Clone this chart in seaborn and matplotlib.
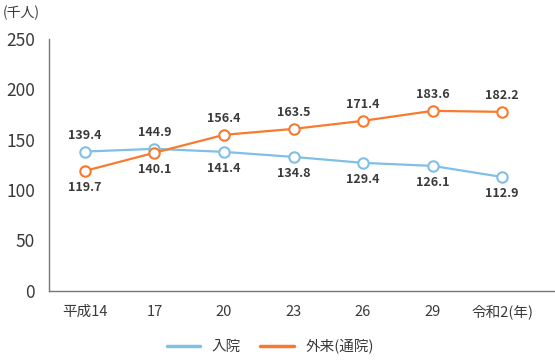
import pandas as pd
import numpy as np
import matplotlib.pyplot as plt
import seaborn as sns
from matplotlib.lines import Line2D

# Data
years = ["平成14", "17", "20", "23", "26", "29", "令和2(年)"]
inpatient = [138.2, 140.9, 137.9, 132.9, 127.0, 124.0, 113.0]
outpatient = [119.0, 137.0, 154.8, 160.7, 168.7, 178.6, 177.6]
# labels as printed in the chart (upper row / lower row)
top_labels = ["139.4", "144.9", "156.4", "163.5", "171.4", "183.6", "182.2"]
bottom_labels = ["119.7", "140.1", "141.4", "134.8", "129.4", "126.1", "112.9"]
yticks = [0, 50, 100, 150, 200, 250]

series_names = ["入院", "外来(通院)"]
colors = {"入院": "#80c0e6", "外来(通院)": "#f77a2e"}

sns.set_style("white")
plt.rcParams["font.family"] = ["Noto Sans CJK JP", "DejaVu Sans"]

df = pd.DataFrame({
    "x": list(range(len(years))) * 2,
    "value": inpatient + outpatient,
    "series": [series_names[0]] * len(years) + [series_names[1]] * len(years),
})

fig = plt.figure(figsize=(5.55, 3.6), dpi=100)
ax = fig.add_axes([0.088, 0.192, 0.912, 0.7])

sns.lineplot(data=df, x="x", y="value", hue="series", palette=colors,
             marker="o", markersize=7.5, linewidth=1.6, legend=False, ax=ax)
for line in ax.lines:
    line.set_markerfacecolor("white")
    line.set_markeredgecolor(line.get_color())
    line.set_markeredgewidth(1.5)

# value labels
text_col = "#3a3a3a"
for i in range(len(years)):
    hi = max(inpatient[i], outpatient[i])
    lo = min(inpatient[i], outpatient[i])
    ax.annotate(top_labels[i], (i, hi), xytext=(0, 7), textcoords="offset points",
                ha="center", va="bottom", fontsize=9, fontweight="bold", color=text_col)
    ax.annotate(bottom_labels[i], (i, lo), xytext=(0, -7), textcoords="offset points",
                ha="center", va="top", fontsize=9, fontweight="bold", color=text_col)

ax.set_xlim(-0.518, 6.76)
ax.set_ylim(0, 250)
ax.set_yticks(yticks)
ax.set_xticks(range(len(years)))
ax.set_xticklabels(years)
ax.set_xticks(np.arange(0.5, len(years) - 1, 1), minor=True)
ax.tick_params(axis="x", which="major", length=0, pad=10, labelsize=10.5, colors=text_col)
ax.tick_params(axis="x", which="minor", length=7, width=1, color="#777777", direction="out")
ax.tick_params(axis="y", length=7, width=1, color="#777777", direction="out",
               pad=3, labelsize=12.5, labelcolor=text_col)
ax.set_xlabel("")
ax.set_ylabel("")
for s in ["top", "right"]:
    ax.spines[s].set_visible(False)
for s in ["left", "bottom"]:
    ax.spines[s].set_color("#777777")
    ax.spines[s].set_linewidth(1)

fig.text(0.005, 0.965, "(千人)", fontsize=10, color=text_col, ha="left", va="center")

handles = [Line2D([], [], color=colors[n], linewidth=2.5) for n in series_names]
fig.legend(handles, series_names, loc="center", bbox_to_anchor=(0.487, 0.038), ncol=2,
           frameon=False, fontsize=10.5, handlelength=2.3, columnspacing=1.3,
           handletextpad=0.8, labelcolor=text_col)

fig.savefig("out.png", dpi=100)
